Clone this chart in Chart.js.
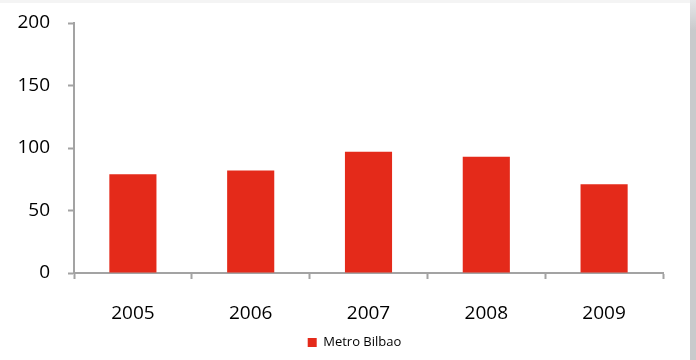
<!DOCTYPE html>
<html>
<head>
<meta charset="utf-8">
<script src="https://cdn.jsdelivr.net/npm/chart.js@4"></script>
<style>
  html, body { margin: 0; padding: 0; background: #ffffff; }
  #wrap { position: relative; width: 696px; height: 360px; overflow: hidden; background: #ffffff; }
  #topband { position: absolute; left: 0; top: 0; width: 690px; height: 3px; background: #f4f4f4; }
  #side { position: absolute; left: 690px; top: 0; width: 6px; height: 360px;
          background: linear-gradient(to bottom, #e6e7e9 0px, #c9cacc 30px, #c9cacc 100%); }
  #c { position: absolute; left: 0; top: 0; }
</style>
</head>
<body>
<div id="wrap">
  <div id="topband"></div>
  <div id="side"></div>
  <canvas id="c" width="696" height="360"></canvas>
</div>
<script>
// Yearly values for Metro Bilbao
const years = ['2005', '2006', '2007', '2008', '2009'];
const metroBilbao = [79, 82, 97, 93, 71];
const yTicks = [0, 50, 100, 150, 200];

const axisColor = '#a3a3a3';
const barColor = '#e42a1a';
const fontFamily = '"Open Sans", "Liberation Sans", sans-serif';

// Nudge the legend a little to the right of the canvas centre
const legendShift = {
  id: 'legendShift',
  afterLayout(chart) {
    const lg = chart.legend;
    if (lg) { lg.left += 23; lg.right += 23; }
  }
};

new Chart(document.getElementById('c'), {
  type: 'bar',
  data: {
    labels: years,
    datasets: [{
      label: 'Metro Bilbao',
      data: metroBilbao,
      backgroundColor: barColor,
      borderWidth: 0,
      categoryPercentage: 0.8,
      barPercentage: 0.5
    }]
  },
  plugins: [legendShift],
  options: {
    responsive: false,
    animation: false,
    devicePixelRatio: 1,
    layout: { padding: { left: 0, right: 33, top: 23, bottom: 1 } },
    plugins: {
      tooltip: { enabled: false },
      legend: {
        position: 'bottom',
        labels: {
          boxWidth: 9,
          boxHeight: 9,
          padding: 8,
          color: '#000000',
          font: { family: fontFamily, size: 13 }
        }
      }
    },
    scales: {
      x: {
        offset: true,
        grid: {
          display: true,
          offset: true,
          drawOnChartArea: false,
          drawTicks: true,
          tickLength: 6,
          tickWidth: 2,
          tickColor: axisColor
        },
        border: { display: true, color: axisColor, width: 2 },
        ticks: {
          color: '#000000',
          padding: 23,
          font: { family: fontFamily, size: 19 }
        },
        afterFit: (scale) => { scale.height = 55; }
      },
      y: {
        min: 0,
        max: 200,
        afterBuildTicks: (scale) => { scale.ticks = yTicks.map(v => ({ value: v })); },
        grid: {
          display: true,
          drawOnChartArea: false,
          drawTicks: true,
          tickLength: 6,
          tickWidth: 2,
          tickColor: axisColor
        },
        border: { display: true, color: axisColor, width: 2 },
        ticks: {
          color: '#000000',
          padding: 18,
          font: { family: fontFamily, size: 19 }
        },
        afterFit: (scale) => {
          scale.width = 74;
          scale.paddingTop = 0;
          scale.paddingBottom = 0;
        }
      }
    }
  }
});
</script>
</body>
</html>
